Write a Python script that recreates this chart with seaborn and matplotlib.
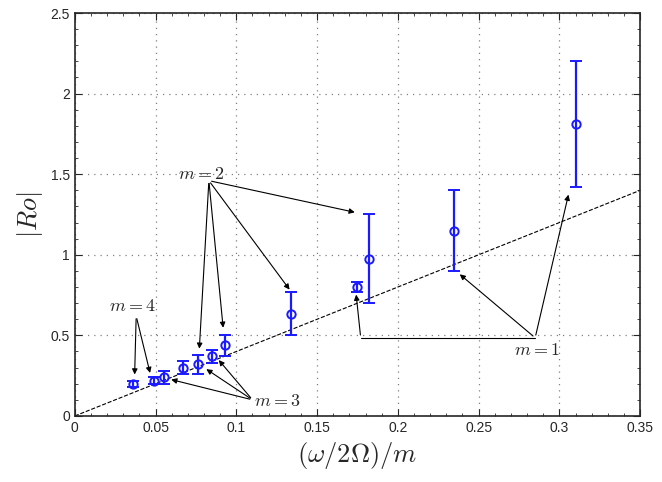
import numpy as np
import matplotlib
matplotlib.use("Agg")
import matplotlib.pyplot as plt
import seaborn as sns
from matplotlib.ticker import AutoMinorLocator

# data
freq = [0.036, 0.049, 0.055, 0.067, 0.076, 0.085, 0.093, 0.134, 0.175, 0.182, 0.235, 0.310]
ro = [0.20, 0.22, 0.24, 0.30, 0.32, 0.37, 0.44, 0.635, 0.80, 0.975, 1.15, 1.81]
err_lo = [0.02, 0.02, 0.04, 0.04, 0.06, 0.04, 0.07, 0.135, 0.03, 0.275, 0.25, 0.39]
err_hi = [0.02, 0.02, 0.04, 0.04, 0.06, 0.04, 0.06, 0.135, 0.03, 0.275, 0.25, 0.39]
line_x = [0.0, 0.35]
line_y = [0.0, 1.4]

sns.set_style("ticks")
plt.rcParams["mathtext.fontset"] = "cm"
plt.rcParams["font.family"] = ["Liberation Sans", "DejaVu Sans"]

fig, ax = plt.subplots(figsize=(6.62, 4.82), dpi=100)
sns.lineplot(x=line_x, y=line_y, ax=ax, color="black", linestyle="--", linewidth=0.8)
ax.errorbar(freq, ro, yerr=[err_lo, err_hi], fmt="o", mfc="none", mec="#1a1aff", mew=1.4,
            ecolor="#1a1aff", color="#1a1aff", ms=6, capsize=4, elinewidth=1.6, capthick=1.6)

arrow = dict(arrowstyle="-|>", color="black", lw=0.8, mutation_scale=8)
ann_fs = 13
for tgt in [(0.175, 1.26), (0.134, 0.77), (0.092, 0.53), (0.077, 0.40)]:
    ax.annotate("", xy=tgt, xytext=(0.083, 1.46), arrowprops=arrow)
ax.text(0.064, 1.47, "$m=2$", fontsize=ann_fs)
for tgt in [(0.037, 0.24), (0.047, 0.25)]:
    ax.annotate("", xy=tgt, xytext=(0.038, 0.62), arrowprops=arrow)
ax.text(0.021, 0.65, "$m=4$", fontsize=ann_fs)
for tgt in [(0.058, 0.23), (0.080, 0.30), (0.088, 0.36)]:
    ax.annotate("", xy=tgt, xytext=(0.110, 0.10), arrowprops=arrow)
ax.text(0.111, 0.06, "$m=3$", fontsize=ann_fs)
for tgt in [(0.306, 1.39), (0.237, 0.89)]:
    ax.annotate("", xy=tgt, xytext=(0.285, 0.485), arrowprops=arrow)
ax.plot([0.285, 0.177], [0.485, 0.485], color="black", lw=0.8)
ax.annotate("", xy=(0.174, 0.77), xytext=(0.177, 0.485), arrowprops=arrow)
ax.text(0.272, 0.38, "$m=1$", fontsize=ann_fs)

ax.set_xlim(0, 0.35)
ax.set_ylim(0, 2.5)
ax.set_xticks(np.arange(0, 0.351, 0.05))
ax.set_xticklabels(["0", "0.05", "0.1", "0.15", "0.2", "0.25", "0.3", "0.35"])
ax.set_yticks(np.arange(0, 2.51, 0.5))
ax.set_yticklabels(["0", "0.5", "1", "1.5", "2", "2.5"])
ax.xaxis.set_minor_locator(AutoMinorLocator(5))
ax.yaxis.set_minor_locator(AutoMinorLocator(5))
ax.tick_params(which="both", direction="in", top=True, right=True, labelsize=10)
ax.tick_params(which="major", length=5)
ax.tick_params(which="minor", length=2.5)
ax.grid(True, which="major", linestyle=(0, (1, 4)), color="gray", linewidth=0.9)
for s in ax.spines.values():
    s.set_linewidth(1.2)
ax.set_xlabel(r"$(\omega/2\Omega)/m$", fontsize=19)
ax.set_ylabel(r"$|Ro|$", fontsize=19)

fig.subplots_adjust(left=0.113, right=0.967, top=0.973, bottom=0.137)
fig.savefig("out.png", dpi=100)
